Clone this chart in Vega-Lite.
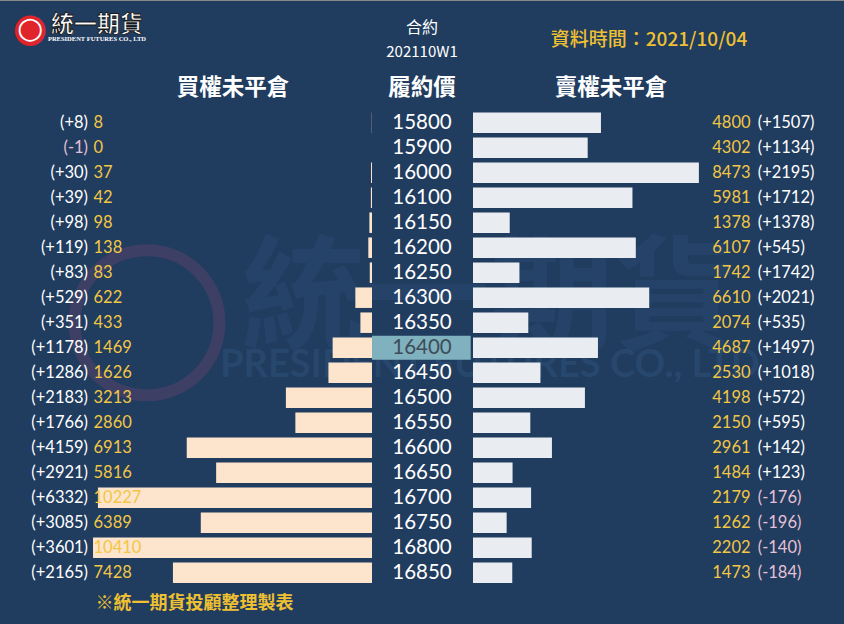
{
  "$schema": "https://vega.github.io/schema/vega-lite/v6.json",
  "usermeta": {"embedOptions": {"actions": false}},
  "width": 844,
  "height": 624,
  "padding": 0,
  "autosize": {"type": "none"},
  "background": "#203c5f",
  "config": {"view": {"stroke": null}, "text": {"font": "Lato"}},
  "datasets": {
    "oi": [
      {"strike": 15800, "call_oi": 8, "call_chg": 8, "put_oi": 4800, "put_chg": 1507},
      {"strike": 15900, "call_oi": 0, "call_chg": -1, "put_oi": 4302, "put_chg": 1134},
      {"strike": 16000, "call_oi": 37, "call_chg": 30, "put_oi": 8473, "put_chg": 2195},
      {"strike": 16100, "call_oi": 42, "call_chg": 39, "put_oi": 5981, "put_chg": 1712},
      {"strike": 16150, "call_oi": 98, "call_chg": 98, "put_oi": 1378, "put_chg": 1378},
      {"strike": 16200, "call_oi": 138, "call_chg": 119, "put_oi": 6107, "put_chg": 545},
      {"strike": 16250, "call_oi": 83, "call_chg": 83, "put_oi": 1742, "put_chg": 1742},
      {"strike": 16300, "call_oi": 622, "call_chg": 529, "put_oi": 6610, "put_chg": 2021},
      {"strike": 16350, "call_oi": 433, "call_chg": 351, "put_oi": 2074, "put_chg": 535},
      {"strike": 16400, "call_oi": 1469, "call_chg": 1178, "put_oi": 4687, "put_chg": 1497},
      {"strike": 16450, "call_oi": 1626, "call_chg": 1286, "put_oi": 2530, "put_chg": 1018},
      {"strike": 16500, "call_oi": 3213, "call_chg": 2183, "put_oi": 4198, "put_chg": 572},
      {"strike": 16550, "call_oi": 2860, "call_chg": 1766, "put_oi": 2150, "put_chg": 595},
      {"strike": 16600, "call_oi": 6913, "call_chg": 4159, "put_oi": 2961, "put_chg": 142},
      {"strike": 16650, "call_oi": 5816, "call_chg": 2921, "put_oi": 1484, "put_chg": 123},
      {"strike": 16700, "call_oi": 10227, "call_chg": 6332, "put_oi": 2179, "put_chg": -176},
      {"strike": 16750, "call_oi": 6389, "call_chg": 3085, "put_oi": 1262, "put_chg": -196},
      {"strike": 16800, "call_oi": 10410, "call_chg": 3601, "put_oi": 2202, "put_chg": -140},
      {"strike": 16850, "call_oi": 7428, "call_chg": 2165, "put_oi": 1473, "put_chg": -184}
    ]
  },
  "data": {"name": "oi"},
  "transform": [
    {"calculate": "'(' + (datum.call_chg > 0 ? '+' : '') + datum.call_chg + ')'", "as": "call_lbl"},
    {"calculate": "'(' + (datum.put_chg > 0 ? '+' : '') + datum.put_chg + ')'", "as": "put_lbl"}
  ],
  "encoding": {
    "y": {
      "field": "strike",
      "type": "ordinal",
      "axis": null,
      "scale": {
        "domain": [15800, 15900, 16000, 16100, 16150, 16200, 16250, 16300, 16350, 16400, 16450, 16500, 16550, 16600, 16650, 16700, 16750, 16800, 16850],
        "range": [110.2, 585.2],
        "paddingInner": 0.18,
        "paddingOuter": 0.09,
        "round": false
      }
    }
  },
  "resolve": {"scale": {"x": "independent", "y": "shared"}},
  "layer": [
    {
      "data": {"values": [{"t": "統一期貨"}]},
      "mark": {"type": "text", "font": "Noto Sans CJK TC", "fontWeight": "bold", "fontSize": 124, "color": "#2a4a72", "opacity": 0.55, "baseline": "middle", "align": "center", "dy": -45},
      "encoding": {
        "x": {"datum": 630, "type": "quantitative", "scale": {"domain": [-17742, 13916], "nice": false, "zero": false}},
        "y": {"datum": 16400},
        "text": {"field": "t"}
      }
    },
    {
      "data": {"values": [{"t": "PRESIDENT FUTURES CO., LTD"}]},
      "mark": {"type": "text", "font": "Lato", "fontWeight": "bold", "fontSize": 38, "color": "#2c4c74", "opacity": 0.7, "baseline": "middle", "align": "center", "dy": 18},
      "encoding": {
        "x": {"datum": 630, "type": "quantitative", "scale": {"domain": [-17742, 13916], "nice": false, "zero": false}},
        "y": {"datum": 16400},
        "text": {"field": "t"}
      }
    },
    {
      "data": {"values": [{"t": "ring"}]},
      "mark": {"type": "point", "shape": "circle", "filled": false, "size": 21000, "strokeWidth": 12, "color": "#5a4469", "opacity": 0.5},
      "encoding": {
        "x": {"datum": 8396, "type": "quantitative", "scale": {"domain": [-17612, 13881], "reverse": true, "nice": false, "zero": false}},
        "y": {"datum": 16350}
      }
    },
    {
      "mark": {"type": "bar", "color": "#fce4cd"},
      "encoding": {
        "x": {"field": "call_oi", "type": "quantitative", "stack": null, "axis": null, "scale": {"domain": [-17612, 13881], "reverse": true, "nice": false, "zero": false}}
      }
    },
    {
      "mark": {"type": "bar", "color": "#e9ecf0"},
      "encoding": {
        "x": {"field": "put_oi", "type": "quantitative", "stack": null, "axis": null, "scale": {"domain": [-17742, 13916], "nice": false, "zero": false}}
      }
    },
    {
      "transform": [{"filter": "datum.strike == 16400"}],
      "mark": {"type": "bar", "color": "#7fb1bf", "height": {"band": 1.17}},
      "encoding": {
        "x": {"datum": -3788, "type": "quantitative", "axis": null, "scale": {"domain": [-17742, 13916], "nice": false, "zero": false}},
        "x2": {"datum": -86}
      }
    },
    {
      "mark": {"type": "text", "align": "center", "baseline": "middle", "fontSize": 20.5},
      "encoding": {
        "x": {"datum": -1913, "type": "quantitative", "axis": null, "scale": {"domain": [-17742, 13916], "nice": false, "zero": false}},
        "text": {"field": "strike"},
        "color": {"condition": {"test": "datum.strike == 16400", "value": "#3d4c58"}, "value": "#ffffff"}
      }
    },
    {
      "mark": {"type": "text", "align": "right", "baseline": "middle", "fontSize": 16.5},
      "encoding": {
        "x": {"datum": 10597, "type": "quantitative", "axis": null, "scale": {"domain": [-17612, 13881], "reverse": true, "nice": false, "zero": false}},
        "text": {"field": "call_lbl"},
        "color": {"condition": {"test": "datum.call_chg < 0", "value": "#e6c0d6"}, "value": "#ffffff"}
      }
    },
    {
      "mark": {"type": "text", "align": "left", "baseline": "middle", "fontSize": 16.5, "color": "#f2c744"},
      "encoding": {
        "x": {"datum": 10392, "type": "quantitative", "axis": null, "scale": {"domain": [-17612, 13881], "reverse": true, "nice": false, "zero": false}},
        "text": {"field": "call_oi"}
      }
    },
    {
      "mark": {"type": "text", "align": "left", "baseline": "middle", "fontSize": 16.5, "color": "#f2c744"},
      "encoding": {
        "x": {"datum": 8976, "type": "quantitative", "axis": null, "scale": {"domain": [-17742, 13916], "nice": false, "zero": false}},
        "text": {"field": "put_oi"}
      }
    },
    {
      "mark": {"type": "text", "align": "left", "baseline": "middle", "fontSize": 16.5},
      "encoding": {
        "x": {"datum": 10680, "type": "quantitative", "axis": null, "scale": {"domain": [-17742, 13916], "nice": false, "zero": false}},
        "text": {"field": "put_lbl"},
        "color": {"condition": {"test": "datum.put_chg < 0", "value": "#e6c0d6"}, "value": "#ffffff"}
      }
    },
    {
      "data": {"values": [{"t": "合約"}]},
      "mark": {"type": "text", "font": "Noto Sans CJK TC", "fontSize": 16, "color": "#ffffff", "align": "center", "baseline": "middle", "dy": -95},
      "encoding": {
        "x": {"datum": -1913, "type": "quantitative", "scale": {"domain": [-17742, 13916], "nice": false, "zero": false}},
        "y": {"datum": 15800},
        "text": {"field": "t"}
      }
    },
    {
      "data": {"values": [{"t": "202110W1"}]},
      "mark": {"type": "text", "font": "Noto Sans CJK TC", "fontSize": 15, "color": "#ffffff", "align": "center", "baseline": "middle", "dy": -71},
      "encoding": {
        "x": {"datum": -1913, "type": "quantitative", "scale": {"domain": [-17742, 13916], "nice": false, "zero": false}},
        "y": {"datum": 15800},
        "text": {"field": "t"}
      }
    },
    {
      "data": {"values": [{"t": "資料時間：2021/10/04"}]},
      "mark": {"type": "text", "font": "Noto Sans CJK TC", "fontWeight": 500, "fontSize": 19, "color": "#eec032", "align": "center", "baseline": "middle", "dy": -83},
      "encoding": {
        "x": {"datum": 6602, "type": "quantitative", "scale": {"domain": [-17742, 13916], "nice": false, "zero": false}},
        "y": {"datum": 15800},
        "text": {"field": "t"}
      }
    },
    {
      "data": {"values": [{"t": "買權未平倉"}]},
      "mark": {"type": "text", "font": "Noto Sans CJK TC", "fontWeight": "bold", "fontSize": 22.5, "color": "#ffffff", "align": "center", "baseline": "middle", "dy": -35},
      "encoding": {
        "x": {"datum": 5187, "type": "quantitative", "scale": {"domain": [-17612, 13881], "reverse": true, "nice": false, "zero": false}},
        "y": {"datum": 15800},
        "text": {"field": "t"}
      }
    },
    {
      "data": {"values": [{"t": "履約價"}]},
      "mark": {"type": "text", "font": "Noto Sans CJK TC", "fontWeight": "bold", "fontSize": 22.5, "color": "#ffffff", "align": "center", "baseline": "middle", "dy": -35},
      "encoding": {
        "x": {"datum": -1913, "type": "quantitative", "scale": {"domain": [-17742, 13916], "nice": false, "zero": false}},
        "y": {"datum": 15800},
        "text": {"field": "t"}
      }
    },
    {
      "data": {"values": [{"t": "賣權未平倉"}]},
      "mark": {"type": "text", "font": "Noto Sans CJK TC", "fontWeight": "bold", "fontSize": 22.5, "color": "#ffffff", "align": "center", "baseline": "middle", "dy": -35},
      "encoding": {
        "x": {"datum": 5176, "type": "quantitative", "scale": {"domain": [-17742, 13916], "nice": false, "zero": false}},
        "y": {"datum": 15800},
        "text": {"field": "t"}
      }
    },
    {
      "data": {"values": [{"t": "※統一期貨投顧整理製表"}]},
      "mark": {"type": "text", "font": "Noto Sans CJK TC", "fontWeight": "bold", "fontSize": 18, "color": "#eec032", "align": "center", "baseline": "middle", "dy": 31},
      "encoding": {
        "x": {"datum": 6623, "type": "quantitative", "scale": {"domain": [-17612, 13881], "reverse": true, "nice": false, "zero": false}},
        "y": {"datum": 16850},
        "text": {"field": "t"}
      }
    },
    {
      "data": {"values": [{"t": "●"}]},
      "mark": {"type": "text", "font": "DejaVu Sans", "fontSize": 40, "color": "#e0242c", "align": "center", "baseline": "middle", "dy": -94},
      "encoding": {
        "x": {"datum": 12762, "type": "quantitative", "scale": {"domain": [-17612, 13881], "reverse": true, "nice": false, "zero": false}},
        "y": {"datum": 15800},
        "text": {"field": "t"}
      }
    },
    {
      "data": {"values": [{"t": "○"}]},
      "mark": {"type": "text", "font": "DejaVu Sans", "fontSize": 30, "color": "#ffffff", "align": "center", "baseline": "middle", "dy": -94},
      "encoding": {
        "x": {"datum": 12762, "type": "quantitative", "scale": {"domain": [-17612, 13881], "reverse": true, "nice": false, "zero": false}},
        "y": {"datum": 15800},
        "text": {"field": "t"}
      }
    },
    {
      "data": {"values": [{"t": "統一期貨"}]},
      "mark": {"type": "text", "font": "Noto Sans CJK TC", "fontWeight": "bold", "fontSize": 23, "color": "#ffffff", "stroke": "#1a1a1a", "strokeWidth": 0.9, "align": "center", "baseline": "middle", "dy": -98},
      "encoding": {
        "x": {"datum": 10262, "type": "quantitative", "scale": {"domain": [-17612, 13881], "reverse": true, "nice": false, "zero": false}},
        "y": {"datum": 15800},
        "text": {"field": "t"}
      }
    },
    {
      "data": {"values": [{"t": "PRESIDENT FUTURES CO., LTD"}]},
      "mark": {"type": "text", "font": "Liberation Serif", "fontWeight": "bold", "fontSize": 6.5, "color": "#ffffff", "align": "center", "baseline": "middle", "dy": -84},
      "encoding": {
        "x": {"datum": 10262, "type": "quantitative", "scale": {"domain": [-17612, 13881], "reverse": true, "nice": false, "zero": false}},
        "y": {"datum": 15800},
        "text": {"field": "t"}
      }
    }
  ]
}
